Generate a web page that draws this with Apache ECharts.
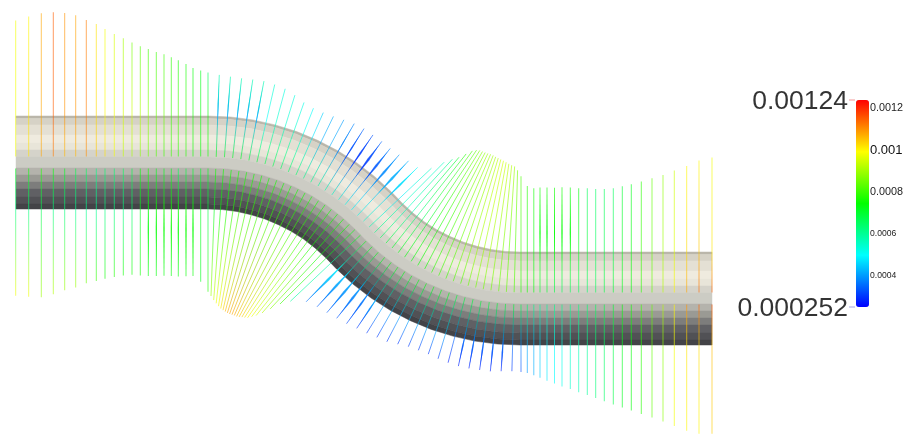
<!DOCTYPE html>
<html>
<head>
<meta charset="utf-8">
<style>html,body{margin:0;padding:0;background:#fff}#main{width:910px;height:434px}</style>
<script src="https://cdn.jsdelivr.net/npm/echarts@6/dist/echarts.min.js"></script>
</head>
<body>
<div id="main"></div>
<script>
// pipe centreline (tilt in degrees)
var tubeX = [16,208,226.6,245,263.1,280.8,298,314.5,330.2,344.9,358.6,363.8,369.4,383.1,397.8,413.5,430,447.2,464.9,483,501.4,520,712];
var tubeY = [162.5,162.5,163.3,165.7,169.8,175.3,182.5,191,201,212.3,224.9,230.2,236.1,248.7,260,270,278.5,285.7,291.2,295.3,297.7,298.5,298.5];
var tubeTilt = [0,0,5,10,15,20,25,30,35,40,45,47,45,40,35,30,25,20,15,10,5,0,0];

// shaded facets of the pipe, offset from the centreline (upper side positive)
var bandEdges = [46.5,44,37.5,27.5,19.5,12.5,5.5,-5.5,-12.5,-19.5,-26.5,-34.5,-41.5,-46.5];
var bandColors = ['#bab6aa','#d6d2c6','#e4e0d4','#efebdf','#e8e5d9','#d5d3ca','#ccccc4','#b4b3ac','#9a9a94','#7d7d7c','#606064','#515155','#434347'];

// where the vectors sit: x on the two straight runs, distance along the pipe in the bend
var flatLeftX = [15.7,28.7,41.3,53.3,64.7,75.7,86.3,96.3,105,114.3,123.3,132,140.3,148.3,156.3,164,171.3,178.3,186,193,200.7,208];
var bendDist = [8,16,24,32,40,48,56,64,72,80,88,96,104,112,120,128,136,144,152,160,168,176,184,192,200,208,216,224,232,240,248,256,264,272,280,288,296,304,312,320,328,336,344];
var flatRightX = [521,527.3,533.8,540,547,554.5,562,570.3,578.7,587.3,595.7,604.3,613.3,622.3,631.3,641.3,652,663,674.3,686.7,699,712];

// outline of the vector tips above the pipe
var upEnvX = [15.7,28.7,41.3,53.3,64.7,75.7,86.3,96.3,105,114.3,123.3,132,140.3,148.3,156.3,164,171.3,178.3,186,193,200.7,209.3,218.3,228,238.3,248.3,258.3,268,278.3,287.7,296.7,305,313.3,322.3,331.7,341.7,351.7,361.7,370.7,380,387.3,395,402.7,410,417.3,425,432.7,441.7,449.3,456.7,464.3,471.7,478.3,485,492.3,498.3,505,511,516,520,524,527.3,533.3,539.7,546.7,554.3,562,570.3,578.7,587.3,595.7,604.3,613.3,622.3,631.3,641.3,652,663,674.3,686.7,699,712];
var upEnvY = [20.7,16.7,13.3,12.3,13,15.3,20,24,29,34,38.3,42.7,46.3,49,52,54.3,57.3,60.3,64,68,70.7,73,75,76.3,78,79.3,80,82,86,90,96.7,103.3,108.3,112.3,116,119.3,122.7,127.3,133.3,140,146.7,151.7,157.3,161.7,167.3,168.3,168.3,163.3,160,158.3,155,151,150,152.7,155,158.3,161.7,165,167.3,175,180,186,188.3,187.7,187.7,188,187.3,187.7,188.3,188.3,189,189,188.3,186.3,184.3,181.7,178.3,175,170.7,166,160.7,157.7];

// outline of the vector tips below the pipe
var lowEnvX = [15,29,41,53,65,76,86,97,105,115,123,132,140,149,157,165,173,181,188,195,202,208,215,220,228,238,248,258,268,280,295,304,312,320,328,337,346,357,367,377,387,397,407,416,425,434,443,453,462,473,482,492,502,511,519,527,534,542,549,557,564,572,580,588,596,604,613,622,631,641,652,663,674,687,699,712];
var lowEnvY = [295.7,296.7,297.3,294.3,290,287.3,283.3,280.7,278.7,276.7,275.3,274.7,275.3,276,276,275.5,276,276.7,276,276,283,291.7,301.7,308,313.3,316.7,317.7,315,310,304,300,301,304,308.3,313.3,318.3,323.3,328.3,333.3,337.3,341.7,344,346,349.3,352.3,356.7,361,364.3,367,369,370.3,371.3,371,371,371.7,372.7,375.3,378.3,381.7,384,387.3,389.3,392.7,395,398,401,404.3,407.3,410.3,413.7,417.3,421.3,425.7,430.7,433.7,433.7];

// velocity magnitude (x 1e-3) along each vector: at the core, at the wall, at the tip
var upNear = [.98,1.02,1.08,1.12,1.06,1.06,1.1,1.05,1.02,.98,.93,.9,.88,.85,.82,.8,.8,.78,.78,.76,.75,.76,
  .74,.72,.72,.72,.7,.7,.68,.68,.66,.66,.65,.62,.62,.6,.58,.56,.54,.52,.5,.52,.55,.58,.62,.66,.7,.72,.73,.74,.74,.75,.76,.78,.8,.8,.82,.82,.84,.85,.85,.85,.84,.84,.82,
  .78,.76,.74,.7,.7,.68,.66,.66,.66,.64,.66,.68,.7,.72,.74,.78,.84,.92,1,1.08,1.14,1.15];
var upMid = [.98,1.02,1.08,1.15,1.1,1.1,1.12,1.03,1,.98,.95,.95,.92,.88,.85,.85,.8,.82,.8,.76,.74,.75,
  .42,.42,.42,.42,.42,.5,.55,.55,.55,.52,.48,.42,.42,.38,.32,.3,.3,.32,.38,.42,.45,.48,.56,.56,.58,.62,.66,.7,.74,.76,.78,.8,.82,.84,.86,.88,.9,.9,.9,.88,.86,.84,.82,
  .8,.76,.74,.74,.74,.74,.74,.74,.72,.7,.66,.68,.68,.72,.74,.8,.84,.9,.96,1.03,1.05,1.02];
var upTip = [.98,1,1.08,1.15,1.1,1.08,1.12,1.02,.98,.95,.9,.85,.82,.8,.8,.8,.78,.76,.76,.74,.72,.66,
  .58,.58,.58,.58,.58,.55,.53,.53,.52,.5,.45,.42,.4,.38,.35,.33,.35,.38,.4,.42,.5,.56,.56,.62,.72,.78,.82,.84,.86,.88,.88,.9,.9,.9,.91,.92,.94,.95,.94,.93,.92,.9,.86,
  .82,.78,.76,.76,.76,.76,.76,.75,.74,.66,.65,.66,.66,.7,.72,.78,.84,.88,.94,1,1,.98];
var lowNear = [.72,.76,.78,.75,.72,.68,.66,.62,.64,.64,.66,.68,.74,.76,.72,.72,.72,.66,.68,.7,.7,.72,
  .76,.76,.76,.76,.76,.76,.76,.76,.76,.76,.76,.76,.76,.76,.76,.76,.76,.76,.76,.76,.74,.74,.74,.74,.74,.74,.74,.74,.74,.74,.74,.74,.74,.74,.74,.7,.7,.7,.7,.7,.7,.7,.7,
  .68,.65,.62,.6,.6,.62,.62,.62,.63,.64,.66,.68,.7,.74,.76,.8,.84,.92,1,1.1,1.15,1.16];
var lowMid = [.62,.62,.66,.62,.62,.6,.6,.6,.62,.62,.62,.64,.72,.74,.75,.76,.76,.75,.76,.75,.72,.68,
  .72,.74,.76,.78,.8,.8,.8,.8,.8,.8,.8,.8,.8,.8,.8,.78,.78,.76,.76,.74,.72,.58,.48,.44,.42,.4,.38,.42,.42,.42,.42,.42,.42,.42,.42,.42,.36,.36,.36,.36,.36,.36,.36,
  .38,.42,.42,.45,.48,.5,.52,.55,.57,.6,.63,.65,.68,.72,.74,.78,.84,.88,.98,1.02,1.03,1.06];
var lowTip = [.98,.98,.9,.92,.9,.9,.85,.8,.76,.78,.76,.76,.76,.74,.74,.74,.74,.74,.75,.75,.72,.78,
  .9,.95,.98,1,1.02,1.04,1.06,1.08,1.08,1.08,1.08,1.06,1.05,1.04,1.02,1,.98,.96,.92,.88,.8,.6,.36,.34,.34,.33,.32,.3,.3,.3,.3,.3,.3,.3,.3,.3,.28,.28,.28,.28,.28,.28,.3,
  .32,.4,.42,.45,.48,.5,.52,.55,.57,.6,.63,.65,.68,.72,.74,.78,.84,.88,.98,1,1,1.04];

// vectors that read heavier in the picture: station number and extra width
var upBoldAt = [23,24,25,26,27,36,37,38,39,40,41,42,43,69,70,71,72,73];
var upBoldW = [1.2,1.2,1.2,1.2,1.2,1,1.5,2,2.5,2.5,2.5,2.5,2,1,1,1,1,1];
var lowBoldAt = [14,15,16,17,18,19,20,45,46,47,48,49,50,60,61,62,63,64];
var lowBoldW = [1,1,1,1,1,1,1,2.5,2.5,2.5,2.5,2,1.5,1.5,1.5,1.5,1.5,1.5];

// colour bar
var barMin = 0.000252;
var barMax = 0.00124;
var barColors = ['#0000ff','#00ffff','#00ff00','#ffff00','#ff0000'];
var barLabels = [0.0004,0.0006,0.0008,0.001,0.0012];
var barLabelStyle = ['s','s','m','l','m'];
var barTicks = [0.00028,0.00032,0.00036,0.0004,0.00044,0.00048,0.00052,0.00056,0.0006,0.00064,0.00068,0.00072,0.00076,0.0008,0.00084,0.00088,0.00092,0.00096,0.001,0.00104,0.00108,0.00112,0.00116,0.0012];
var rangeValues = [0.00124,0.000252];
var rangeText = ['0.00124','0.000252'];
var rangeTickColors = ['#f08080','#9090e0'];

var CORE_GAP = 6;
var WALL = 46.5;
var BEND_START = 1;

function ramp(v) {
  var t = (v * 1e-3 - barMin) / (barMax - barMin);
  t = Math.max(0, Math.min(1, t)) * (barColors.length - 1);
  var i = Math.min(Math.floor(t), barColors.length - 2);
  return echarts.color.lerp(t - i, [barColors[i], barColors[i + 1]]);
}

function envAt(xs, ys, x) {
  for (var i = 1; i < xs.length; i++) {
    if (x <= xs[i]) {
      var f = (x - xs[i - 1]) / (xs[i] - xs[i - 1]);
      return ys[i - 1] + (ys[i] - ys[i - 1]) * f;
    }
  }
  return ys[ys.length - 1];
}

// centreline point at a distance along the bend
function bendPoint(d) {
  for (var i = BEND_START; i < tubeX.length - 1; i++) {
    var len = Math.hypot(tubeX[i + 1] - tubeX[i], tubeY[i + 1] - tubeY[i]);
    if (d <= len) {
      var f = d / len;
      return [tubeX[i] + (tubeX[i + 1] - tubeX[i]) * f,
              tubeY[i] + (tubeY[i + 1] - tubeY[i]) * f,
              (tubeTilt[i] + (tubeTilt[i + 1] - tubeTilt[i]) * f) * Math.PI / 180];
    }
    d -= len;
  }
  return [tubeX[tubeX.length - 1], tubeY[tubeY.length - 1], 0];
}

var centres = flatLeftX.map(function (x) { return [x, tubeY[0], 0]; })
  .concat(bendDist.map(bendPoint))
  .concat(flatRightX.map(function (x) { return [x, tubeY[tubeY.length - 1], 0]; }));

var stationRows = centres.map(function (c, i) {
  var sx = Math.sin(c[2]), cx = Math.cos(c[2]);
  var tu = WALL, tl = WALL;
  while (tu < 300 && c[1] - cx * tu > envAt(upEnvX, upEnvY, c[0] + sx * tu)) tu += 0.25;
  while (tl < 300 && c[1] + cx * tl < envAt(lowEnvX, lowEnvY, c[0] - sx * tl)) tl += 0.25;
  return [c[0], c[1], c[0] + sx * tu, c[1] - cx * tu, c[0] - sx * tl, c[1] + cx * tl, i];
});

function halfVector(c, tip, vals, bold) {
  var L = Math.hypot(tip[0] - c[0], tip[1] - c[1]);
  var ux = (tip[0] - c[0]) / L, uy = (tip[1] - c[1]) / L;
  var b = [c[0] + ux * CORE_GAP, c[1] + uy * CORE_GAP];
  var wall = Math.max(0.05, Math.min(0.95, (WALL - CORE_GAP) / (L - CORE_GAP)));
  var grad = new echarts.graphic.LinearGradient(b[0], b[1], tip[0], tip[1], [
    { offset: 0, color: ramp(vals[0]) },
    { offset: wall, color: ramp(vals[1]) },
    { offset: 1, color: ramp(vals[2]) }
  ], true);
  var out = [{
    type: 'line',
    shape: { x1: b[0], y1: b[1], x2: tip[0], y2: tip[1] },
    style: { stroke: grad, lineWidth: 1, fill: null, opacity: 0.62 }
  }];
  if (bold) {
    var at = function (f, side) {
      var d = CORE_GAP + (L - CORE_GAP) * f;
      return [c[0] + ux * d - uy * side, c[1] + uy * d + ux * side];
    };
    out.push({
      type: 'polygon',
      shape: { points: [at(wall * 0.7, 0), at(wall + (1 - wall) * 0.3, bold / 2), at(0.96, 0), at(wall + (1 - wall) * 0.3, -bold / 2)] },
      style: { fill: grad, opacity: 0.8 }
    });
  }
  return out;
}

var chart = echarts.init(document.getElementById('main'));
chart.setOption({
  animation: false,
  grid: [
    { left: 0, top: 0, width: 910, height: 434 },
    { left: 856, top: 100, width: 13, height: 207 }
  ],
  xAxis: [
    { type: 'value', gridIndex: 0, min: 0, max: 910, show: false },
    { type: 'value', gridIndex: 1, min: 0, max: 1, show: false }
  ],
  yAxis: [
    { type: 'value', gridIndex: 0, min: 0, max: 434, inverse: true, show: false },
    {
      type: 'value', gridIndex: 1, min: barMin, max: barMax, position: 'right',
      axisLine: { show: false },
      splitLine: { show: false },
      axisTick: { show: true, length: 6, customValues: barTicks, lineStyle: { color: '#555', width: 1 } },
      axisLabel: {
        show: true, margin: 1, customValues: barLabels,
        formatter: function (v) {
          var k = barLabels.indexOf(v);
          return '{' + barLabelStyle[k] + '|' + v + '}';
        },
        rich: {
          s: { fontFamily: 'Liberation Sans', fontSize: 8.6, color: '#222' },
          m: { fontFamily: 'Liberation Sans', fontSize: 10.8, color: '#222' },
          l: { fontFamily: 'Liberation Sans', fontSize: 13, color: '#111' }
        }
      }
    }
  ],
  visualMap: {
    type: 'continuous', seriesIndex: [], min: barMin, max: barMax,
    left: 856, top: 100, itemWidth: 13, itemHeight: 207, padding: 0,
    calculable: false, showLabel: false, text: null, hoverLink: false,
    inRange: { color: barColors }
  },
  series: [
    {
      type: 'custom', xAxisIndex: 0, yAxisIndex: 0, silent: true, clip: false, z: 1,
      data: bandColors.map(function (col, i) { return [0, 0, i]; }),
      encode: { x: 0, y: 1 },
      renderItem: function (params, api) {
        var k = api.value(2);
        var top = [], bottom = [];
        tubeX.forEach(function (x, j) {
          var a = tubeTilt[j] * Math.PI / 180;
          var sx = Math.sin(a), cx = Math.cos(a);
          top.push(api.coord([x + sx * bandEdges[k], tubeY[j] - cx * bandEdges[k]]));
          bottom.unshift(api.coord([x + sx * bandEdges[k + 1], tubeY[j] - cx * bandEdges[k + 1]]));
        });
        return { type: 'polygon', shape: { points: top.concat(bottom) }, style: { fill: bandColors[k], stroke: bandColors[k], lineWidth: 0.5 } };
      }
    },
    {
      type: 'custom', xAxisIndex: 0, yAxisIndex: 0, silent: true, clip: false, z: 2,
      data: stationRows,
      encode: { x: 0, y: 1 },
      renderItem: function (params, api) {
        var i = api.value(6);
        var c = api.coord([api.value(0), api.value(1)]);
        var u = api.coord([api.value(2), api.value(3)]);
        var l = api.coord([api.value(4), api.value(5)]);
        var ub = upBoldAt.indexOf(i + 1), lb = lowBoldAt.indexOf(i + 1);
        return {
          type: 'group',
          children: halfVector(c, u, [upNear[i], upMid[i], upTip[i]], ub < 0 ? 0 : upBoldW[ub])
            .concat(halfVector(c, l, [lowNear[i], lowMid[i], lowTip[i]], lb < 0 ? 0 : lowBoldW[lb]))
        };
      }
    },
    {
      type: 'scatter', xAxisIndex: 1, yAxisIndex: 1, silent: true, clip: false, z: 3,
      data: rangeValues.map(function (v, i) {
        return {
          value: [0, v],
          itemStyle: { color: rangeTickColors[i] },
          label: { formatter: rangeText[i] }
        };
      }),
      symbol: 'rect', symbolSize: [6, 1], symbolOffset: [-4, 0],
      label: {
        show: true, position: 'left', distance: 1, offset: [0, 1.5],
        fontFamily: 'Liberation Sans', fontSize: 26.5, color: '#000'
      }
    }
  ]
});
</script>
</body>
</html>
